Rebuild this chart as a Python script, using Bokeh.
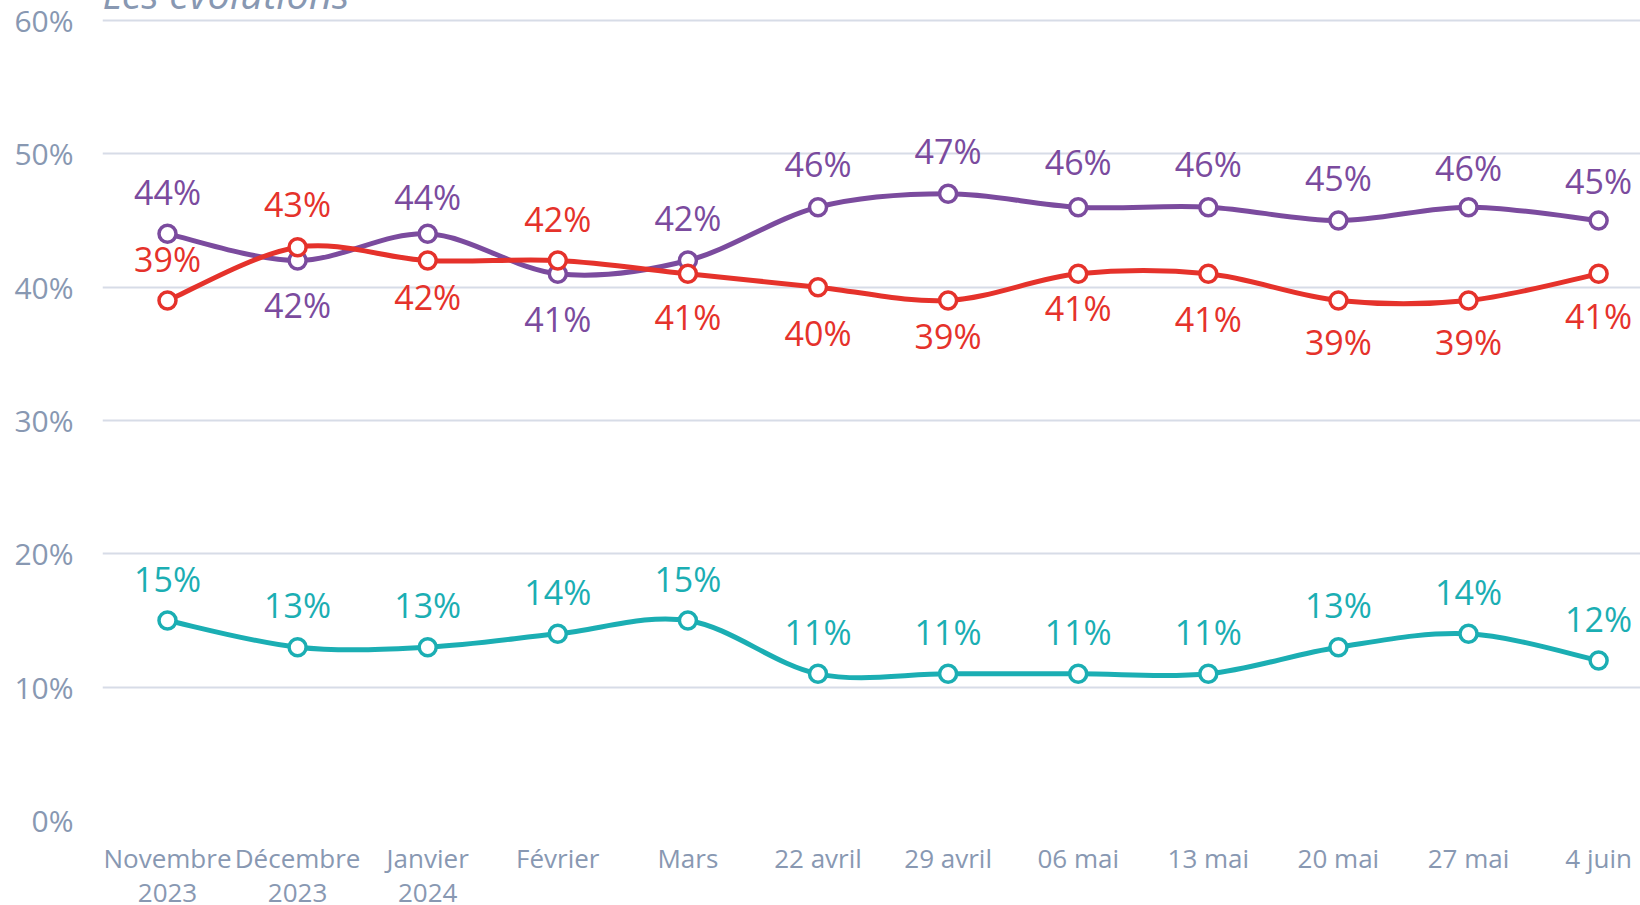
import numpy as np
from bokeh.plotting import figure
from bokeh.models import FixedTicker, Range1d
from bokeh.embed import file_html
from bokeh.resources import INLINE
from bokeh.core.properties import value

# ---------------- data ----------------
categories = ["Novembre\n2023", "Décembre\n2023", "Janvier\n2024", "Février", "Mars",
              "22 avril", "29 avril", "06 mai", "13 mai", "20 mai", "27 mai", "4 juin"]
series_purple = [44, 42, 44, 41, 42, 46, 47, 46, 46, 45, 46, 45]
series_red = [39, 43, 42, 42, 41, 40, 39, 41, 41, 39, 39, 41]
series_teal = [15, 13, 13, 14, 15, 11, 11, 11, 11, 13, 14, 12]
y_ticks = [0, 10, 20, 30, 40, 50, 60]
title_text = "Les évolutions"

# label vertical offsets in screen pixels (negative = above the point)
purple_label_dy = [-42, 44, -37, 45, -43, -43, -43, -45, -43, -43, -39, -40]
red_label_dy = [-42, -43, 36, -42, 43, 46, 35, 34, 45, 41, 41, 42]
teal_label_dy = [-42, -42, -42, -42, -42, -42, -42, -42, -42, -42, -42, -42]

# ---------------- style ----------------
C_PURPLE = "#7B4B9E"
C_RED = "#E5322B"
C_TEAL = "#1BAEB3"
C_AXIS = "#8898B2"
C_GRID = "#D7DCE7"
FONT = "Open Sans"

PX_PER_UNIT = 800 / 60.0
Y_TOP = 60 + 32 / PX_PER_UNIT

p = figure(frame_width=1538, frame_height=832,
           min_border_left=102, min_border_right=0, min_border_top=0, min_border_bottom=92,
           x_range=Range1d(-0.4996, 11.322), y_range=Range1d(0, Y_TOP),
           output_backend="svg", toolbar_location=None,
           background_fill_color="white", border_fill_color="white")
p.styles = {"margin-top": "-12px", "margin-bottom": "-30px"}
p.outline_line_color = None
p.xgrid.grid_line_color = None
p.ygrid.grid_line_color = C_GRID
p.ygrid.grid_line_width = 2
p.ygrid.ticker = FixedTicker(ticks=y_ticks)

p.yaxis.ticker = FixedTicker(ticks=y_ticks)
p.yaxis.major_label_overrides = {v: f"{v}%" for v in y_ticks}
p.xaxis.ticker = FixedTicker(ticks=list(range(len(categories))))
p.xaxis.major_label_overrides = {i: c for i, c in enumerate(categories)}
for ax in (p.xaxis, p.yaxis):
    ax.axis_line_color = None
    ax.major_tick_line_color = None
    ax.minor_tick_line_color = None
    ax.major_tick_out = 0
    ax.major_tick_in = 0
    ax.major_label_text_color = C_AXIS
    ax.major_label_text_font = FONT
p.yaxis.major_label_text_font_size = "30px"
p.yaxis.major_label_standoff = 29
p.xaxis.major_label_text_font_size = "26px"
p.xaxis.major_label_standoff = 19
p.xaxis.major_label_text_line_height = 0.95


def bezier_parts(xs, ys):
    xs = np.asarray(xs, float)
    ys = np.asarray(ys, float)
    n = len(xs)
    px = np.concatenate([[xs[0]], xs, [xs[-1]]])
    py = np.concatenate([[ys[0]], ys, [ys[-1]]])
    cx0 = xs[:-1] + (px[2:n + 1] - px[0:n - 1]) / 6.0
    cy0 = ys[:-1] + (py[2:n + 1] - py[0:n - 1]) / 6.0
    cx1 = xs[1:] - (px[3:n + 2] - px[1:n]) / 6.0
    cy1 = ys[1:] - (py[3:n + 2] - py[1:n]) / 6.0
    return dict(x0=xs[:-1], y0=ys[:-1], x1=xs[1:], y1=ys[1:],
                cx0=cx0, cy0=cy0, cx1=cx1, cy1=cy1)


# title (cut by the top edge, as in the reference)
p.text(x=[-0.5], y=[60 + 27 / PX_PER_UNIT], text=[title_text],
       text_font=value(FONT), text_font_style="italic", text_font_size="40px",
       text_color=C_AXIS, text_align="left", text_baseline="alphabetic")

xs = list(range(len(categories)))
for vals, dys, col in ((series_purple, purple_label_dy, C_PURPLE),
                       (series_red, red_label_dy, C_RED),
                       (series_teal, teal_label_dy, C_TEAL)):
    b = bezier_parts(xs, vals)
    p.bezier(x0=b["x0"], y0=b["y0"], x1=b["x1"], y1=b["y1"],
             cx0=b["cx0"], cy0=b["cy0"], cx1=b["cx1"], cy1=b["cy1"],
             line_color=col, line_width=5)
    p.scatter(xs, vals, size=17, fill_color="white", line_color=col, line_width=3.5)
    p.text(x=xs, y=vals, text=[f"{v}%" for v in vals], y_offset=dys,
           text_align="center", text_baseline="middle",
           text_font=value(FONT), text_font_size="34px", text_color=col)

open("out.html", "w").write(file_html(p, INLINE))
